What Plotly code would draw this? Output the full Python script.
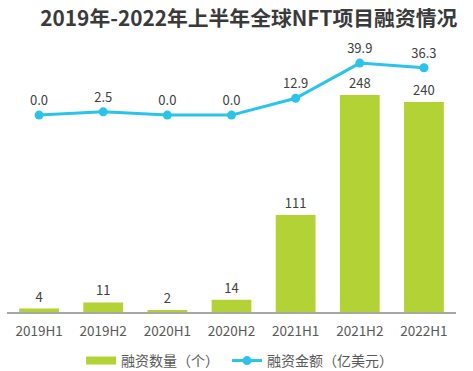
import plotly.graph_objects as go

categories = ["2019H1", "2019H2", "2020H1", "2020H2", "2021H1", "2021H2", "2022H1"]
deal_counts = [4, 11, 2, 14, 111, 248, 240]
deal_amounts = [0.0, 2.5, 0.0, 0.0, 12.9, 39.9, 36.3]
series_names = ["融资数量（个）", "融资金额（亿美元）"]

FONT = "Noto Sans CJK SC, Noto Sans, sans-serif"
GREEN = "#b2d235"
CYAN = "#2ac3ea"

fig = go.Figure()
fig.add_trace(go.Bar(
    x=categories, y=deal_counts, name=series_names[0], showlegend=False,
    marker=dict(color=GREEN, line=dict(width=0)),
    width=0.62,
    text=[str(v) for v in deal_counts], textposition="outside",
    textfont=dict(size=13, color="#404040"), cliponaxis=False,
))
# legend-only entry giving the wide green swatch
fig.add_trace(go.Scatter(
    x=[None], y=[None], name=series_names[0], mode="lines",
    line=dict(color=GREEN, width=8), showlegend=True, legend="legend",
))
fig.add_trace(go.Scatter(
    x=categories, y=deal_amounts, name=series_names[1], yaxis="y2",
    mode="lines+markers+text",
    line=dict(color=CYAN, width=3),
    marker=dict(color=CYAN, size=9),
    text=[f"{v:.1f}" for v in deal_amounts], textposition="top center",
    textfont=dict(size=13, color="#404040"), cliponaxis=False,
    legend="legend2",
))

legend_style = dict(orientation="h", yanchor="middle", y=-0.18, xanchor="left",
                    font=dict(size=14, color="#595959"), itemwidth=30,
                    bgcolor="rgba(0,0,0,0)")

fig.update_layout(
    width=473, height=371,
    margin=dict(l=7, r=17, t=40, b=59, autoexpand=False),
    paper_bgcolor="white", plot_bgcolor="white",
    font=dict(family=FONT, color="#404040"),
    title=dict(text="<b>2019年-2022年上半年全球NFT项目融资情况</b>",
               x=0.526, xanchor="center", y=0.968, yanchor="top",
               font=dict(size=20.8, color="#3a3a3a", family=FONT)),
    xaxis=dict(showline=True, linecolor="#a6a6a6", linewidth=2,
               ticks="", tickfont=dict(size=13.5, color="#595959"),
               ticklabelstandoff=6, showgrid=False),
    yaxis=dict(range=[0, 311], visible=False, showgrid=False),
    yaxis2=dict(range=[-151, 57.6], overlaying="y", visible=False, showgrid=False),
    showlegend=True,
    legend=dict(x=0.165, **legend_style),
    legend2=dict(x=0.49, **legend_style),
    bargap=0.38,
)

fig.write_html("out.html", config={"displayModeBar": False},
               post_script="document.body.style.margin='0';")
